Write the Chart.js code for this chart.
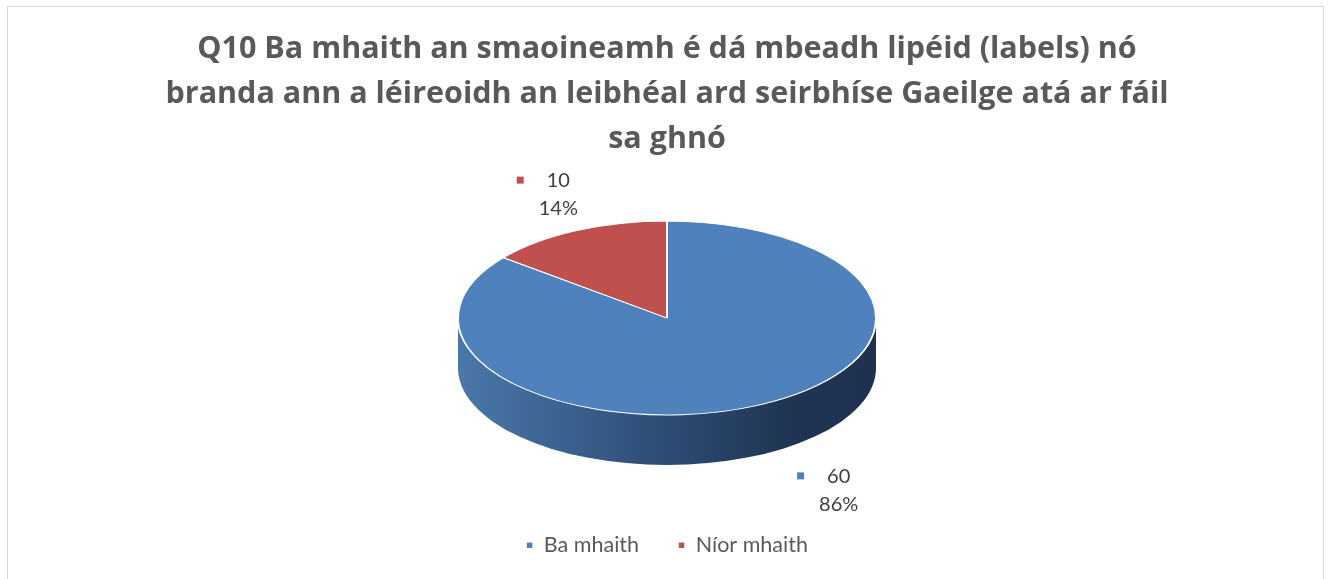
<!DOCTYPE html>
<html>
<head>
<meta charset="utf-8">
<script src="https://cdn.jsdelivr.net/npm/chart.js@4.4.1/dist/chart.umd.min.js"></script>
<style>
  html, body { margin: 0; padding: 0; background: #fff; overflow: hidden; }
  #wrap { position: relative; width: 1334px; height: 579px; }
  #frame {
    position: absolute; left: 7px; top: 6px; width: 1317px; height: 600px;
    border: 1px solid #d9d9d9; box-sizing: border-box;
  }
  canvas { position: absolute; left: 0; top: 0; }
</style>
</head>
<body>
<div id="wrap">
  <div id="frame"></div>
  <canvas id="chart" width="1334" height="579"></canvas>
</div>
<script>
const titleLines = [
  'Q10 Ba mhaith an smaoineamh é dá mbeadh lipéid (labels) nó',
  'branda ann a léireoidh an leibhéal ard seirbhíse Gaeilge atá ar fáil',
  'sa ghnó'
];
const categories = ['Ba mhaith', 'Níor mhaith'];
const counts = [60, 10];
const sliceColors = ['#4f81bd', '#c0504d'];
// darker shades for the rim of each slice, light to dark across the pie
const rimColors = [
  ['#4a78aa', '#30507a', '#1f3452', '#1e3150'],
  ['#b04a47', '#8a3836', '#5e2524', '#5a2322']
];

const FONT = 'Lato, "Open Sans", sans-serif';
const TITLE_FONT = '"Open Sans", Lato, sans-serif';

// flattened "3D" look: squash the library's circular pie into an ellipse and add a rim
const view = { cy: 318, rx: 209, tilt: 0.464, depth: 50 };

function ellipseOf(chart) {
  const arc = chart.getDatasetMeta(0).data[0];
  const s = view.rx / arc.outerRadius;
  return { x0: arc.x, y0: arc.y, cx: arc.x, cy: view.cy, rx: view.rx, ry: view.rx * view.tilt, sx: s, sy: s * view.tilt };
}

const pie3d = {
  id: 'pie3d',
  beforeDatasetsDraw(chart) {
    const ctx = chart.ctx;
    const e = ellipseOf(chart);
    const meta = chart.getDatasetMeta(0);
    // rim: only the front half (angles 0..PI on canvas) can be seen
    meta.data.forEach((arc, i) => {
      const spans = [];
      for (const off of [0, 2 * Math.PI, -2 * Math.PI]) {
        const a = Math.max(arc.startAngle + off, 0);
        const b = Math.min(arc.endAngle + off, Math.PI);
        if (b > a) spans.push([a, b]);
      }
      const g = ctx.createLinearGradient(e.cx - e.rx, 0, e.cx + e.rx, 0);
      const c = rimColors[i];
      g.addColorStop(0, c[0]);
      g.addColorStop(0.45, c[1]);
      g.addColorStop(0.8, c[2]);
      g.addColorStop(1, c[3]);
      spans.forEach(([a, b]) => {
        ctx.save();
        ctx.beginPath();
        ctx.ellipse(e.cx, e.cy, e.rx, e.ry, 0, a, b, false);
        ctx.ellipse(e.cx, e.cy + view.depth, e.rx, e.ry, 0, b, a, true);
        ctx.closePath();
        ctx.fillStyle = g;
        ctx.fill();
        ctx.restore();
      });
    });
    ctx.save();
    ctx.translate(e.cx, e.cy);
    ctx.scale(e.sx, e.sy);
    ctx.translate(-e.x0, -e.y0);
  },
  afterDatasetsDraw(chart) {
    chart.ctx.restore();
  },
  afterDraw(chart, args, opts) {
    const ctx = chart.ctx;
    const e = ellipseOf(chart);
    const meta = chart.getDatasetMeta(0);
    const total = counts.reduce((a, b) => a + b, 0);
    ctx.save();
    ctx.font = '20px ' + FONT;
    ctx.textAlign = 'center';
    ctx.textBaseline = 'middle';
    meta.data.forEach((arc, i) => {
      const mid = (arc.startAngle + arc.endAngle) / 2;
      let x = e.cx + Math.cos(mid) * e.rx;
      let y = e.cy + Math.sin(mid) * e.ry;
      if (Math.sin(mid) > 0) y += view.depth;
      x += opts.offsets[i][0];
      y += opts.offsets[i][1];
      const pct = Math.round(counts[i] / total * 100) + '%';
      ctx.fillStyle = '#404040';
      ctx.fillText(String(counts[i]), x, y - 14);
      ctx.fillText(pct, x, y + 14);
      const w = ctx.measureText(String(counts[i])).width;
      ctx.fillStyle = sliceColors[i];
      ctx.fillRect(x - w / 2 - 30, y - 18, 7, 7);
    });
    ctx.restore();
  }
};

new Chart(document.getElementById('chart'), {
  type: 'pie',
  data: {
    labels: categories,
    datasets: [{
      data: counts,
      backgroundColor: sliceColors,
      borderColor: '#ffffff',
      borderWidth: 1.5,
      clip: false
    }]
  },
  plugins: [pie3d],
  options: {
    responsive: false,
    animation: false,
    layout: { padding: { top: 10, bottom: 13 } },
    plugins: {
      title: {
        display: true,
        text: titleLines,
        color: '#595959',
        font: { family: TITLE_FONT, size: 30.5, weight: 'bold', lineHeight: 1.475 },
        padding: { top: 17, bottom: 10 }
      },
      legend: {
        position: 'bottom',
        labels: {
          color: '#595959',
          font: { family: FONT, size: 21.5 },
          usePointStyle: true,
          pointStyle: 'rect',
          boxHeight: 7,
          pointStyleWidth: 7,
          padding: 39
        }
      },
      tooltip: { enabled: false },
      pie3d: { offsets: [[81, 35], [-18, -36]] }
    }
  }
});
</script>
</body>
</html>
